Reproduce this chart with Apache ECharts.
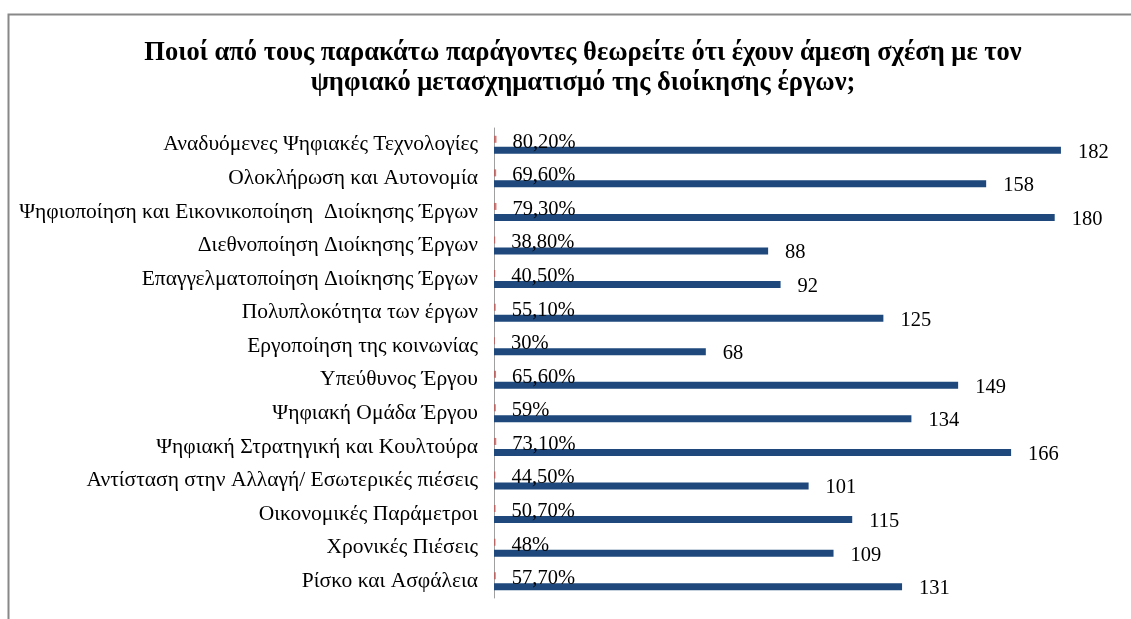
<!DOCTYPE html>
<html>
<head>
<meta charset="utf-8">
<script src="https://cdn.jsdelivr.net/npm/echarts@6/dist/echarts.min.js"></script>
<style>
  html, body { margin: 0; padding: 0; background: #fff; }
  #chart { width: 1131px; height: 619px; }
</style>
</head>
<body>
<div id="chart"></div>
<script>
// Factors (top to bottom)
const categories = [
  'Αναδυόμενες Ψηφιακές Τεχνολογίες',
  'Ολοκλήρωση και Αυτονομία',
  'Ψηφιοποίηση και Εικονικοποίηση  Διοίκησης Έργων',
  'Διεθνοποίηση Διοίκησης Έργων',
  'Επαγγελματοποίηση Διοίκησης Έργων',
  'Πολυπλοκότητα των έργων',
  'Εργοποίηση της κοινωνίας',
  'Υπεύθυνος Έργου',
  'Ψηφιακή Ομάδα Έργου',
  'Ψηφιακή Στρατηγική και Κουλτούρα',
  'Αντίσταση στην Αλλαγή/ Εσωτερικές πιέσεις',
  'Οικονομικές Παράμετροι',
  'Χρονικές Πιέσεις',
  'Ρίσκο και Ασφάλεια'
];
// Number of respondents per factor
const counts = [182, 158, 180, 88, 92, 125, 68, 149, 134, 166, 101, 115, 109, 131];
// Share of respondents (%)
const percents = [80.2, 69.6, 79.3, 38.8, 40.5, 55.1, 30, 65.6, 59, 73.1, 44.5, 50.7, 48, 57.7];

const serif = '"Liberation Serif", "DejaVu Serif", serif';

function fmtPct(p) {
  const s = Number.isInteger(p) ? String(p) : p.toFixed(2).replace('.', ',');
  return s + '%';
}

const chart = echarts.init(document.getElementById('chart'));
chart.setOption({
  animation: false,
  backgroundColor: '#ffffff',
  graphic: [{
    type: 'rect',
    left: 6, top: 12,
    shape: { width: 1200, height: 700 },
    style: { fill: 'none', stroke: '#888888', lineWidth: 2 },
    silent: true
  }],
  title: {
    text: 'Ποιοί από τους παρακάτω παράγοντες θεωρείτε ότι έχουν άμεση σχέση με τον\nψηφιακό μετασχηματισμό της διοίκησης έργων;',
    left: 578, top: 33, textAlign: 'center',
    textStyle: {
      fontFamily: serif, fontSize: 26.5, fontWeight: 'bold', color: '#000',
      lineHeight: 30
    }
  },
  grid: { left: 494, top: 128, right: 14, bottom: 21, containLabel: false },
  xAxis: {
    type: 'value', min: 0, max: 200,
    show: false, splitLine: { show: false }
  },
  yAxis: {
    type: 'category', data: categories, inverse: true,
    axisLine: { show: true, lineStyle: { color: '#a0a0a0', width: 1 } },
    axisTick: { show: false },
    axisLabel: { fontFamily: serif, fontSize: 21.5, color: '#000', margin: 16 }
  },
  series: [
    {
      name: 'Ποσοστό',
      type: 'bar',
      data: percents.map(p => p / 100),
      barWidth: 7,
      barGap: '57%',
      itemStyle: { color: 'rgba(192,80,77,0.75)' },
      label: {
        show: true, position: 'right', distance: 16, offset: [0, 3],
        fontFamily: serif, fontSize: 20.5, color: '#000',
        formatter: p => fmtPct(percents[p.dataIndex])
      }
    },
    {
      name: 'Πλήθος',
      type: 'bar',
      data: counts,
      barWidth: 7,
      itemStyle: { color: '#1f497d' },
      label: {
        show: true, position: 'right', distance: 17, offset: [0, 2],
        fontFamily: serif, fontSize: 20.5, color: '#000'
      }
    }
  ]
});
</script>
</body>
</html>
